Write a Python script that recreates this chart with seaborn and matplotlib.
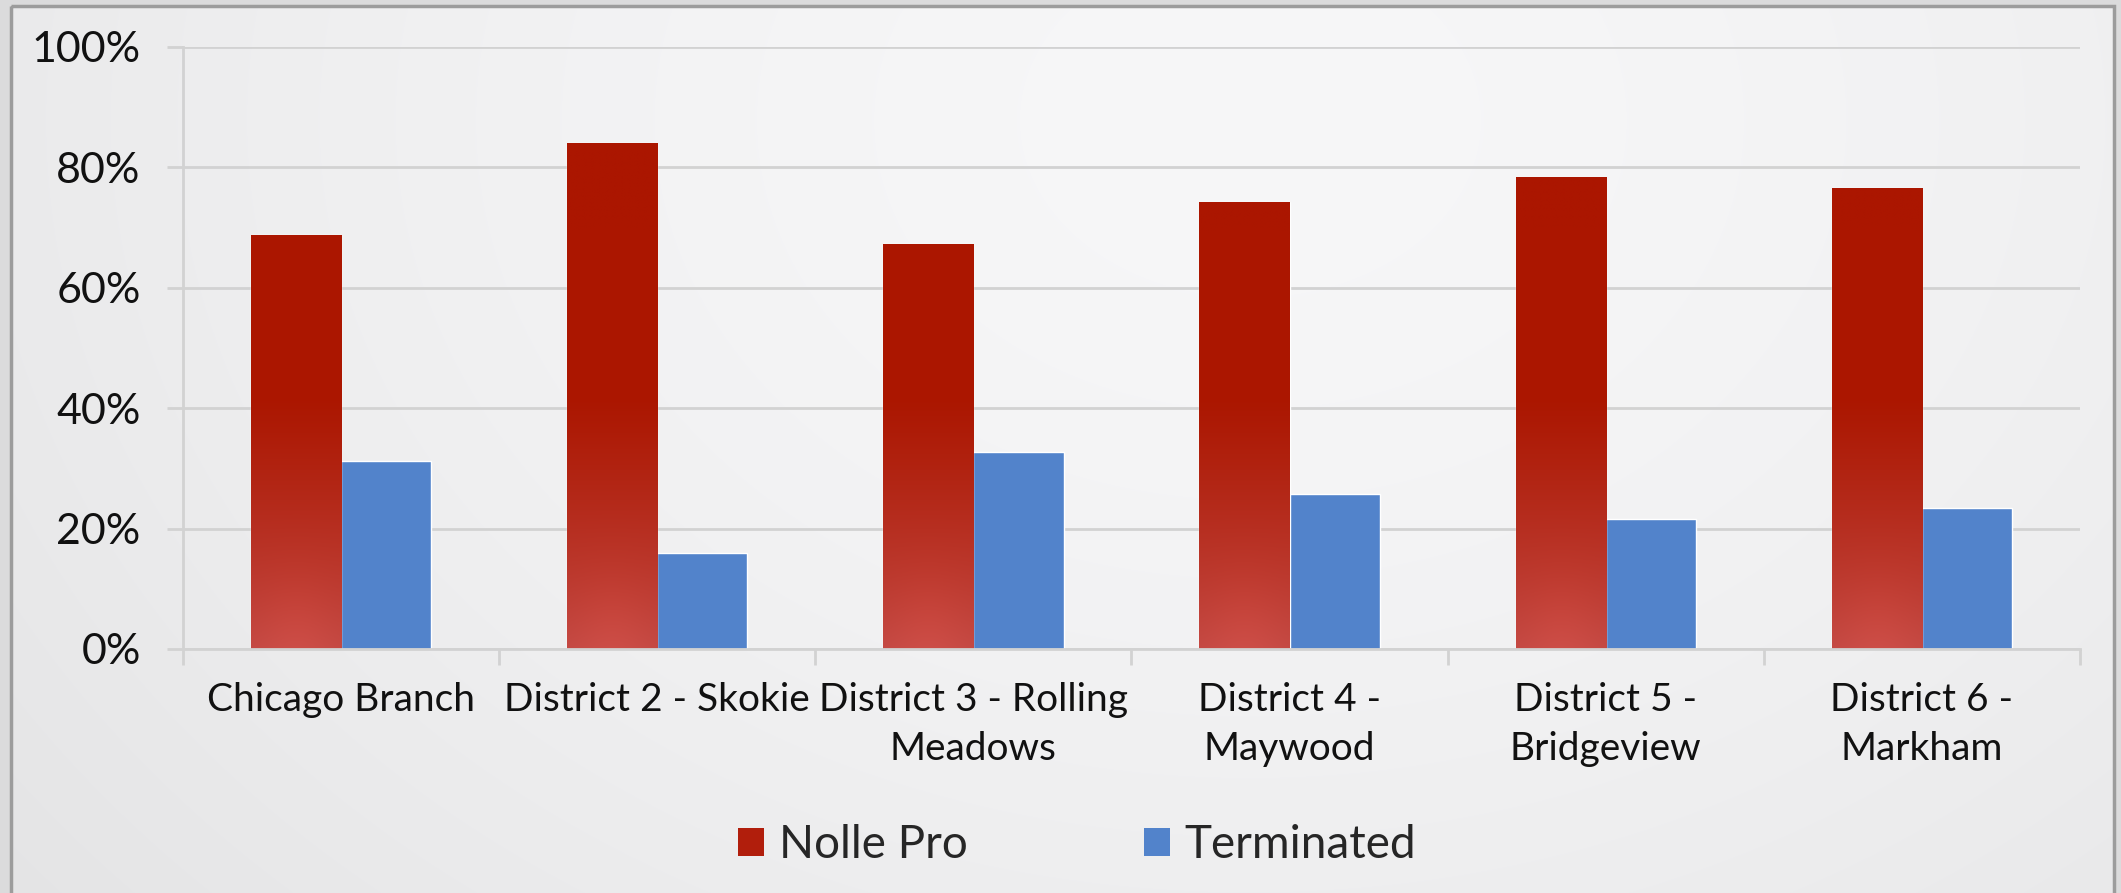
import numpy as np
import pandas as pd
import matplotlib
matplotlib.use("Agg")
import matplotlib.pyplot as plt
import seaborn as sns
from matplotlib.patches import Patch, Rectangle

# ---- data ----
districts = ["Chicago Branch", "District 2 - Skokie", "District 3 - Rolling\nMeadows",
             "District 4 -\nMaywood", "District 5 -\nBridgeview", "District 6 -\nMarkham"]
nolle_pro = [0.688, 0.840, 0.672, 0.742, 0.784, 0.766]
terminated = [0.312, 0.160, 0.328, 0.258, 0.216, 0.234]
series = ["Nolle Pro", "Terminated"]
y_ticks = [0, 0.2, 0.4, 0.6, 0.8, 1.0]
y_tick_labels = ["0%", "20%", "40%", "60%", "80%", "100%"]

RED = "#AB1600"
RED_LOW = "#C24842"
BLUE = "#5283CB"
GRID = "#d2d2d2"

df = pd.DataFrame({
    "district": districts * 2,
    "value": nolle_pro + terminated,
    "outcome": [series[0]] * len(districts) + [series[1]] * len(districts),
})

sns.set_theme(style="white")
plt.rcParams["font.family"] = ["Lato", "DejaVu Sans"]

W, H = 2121, 893
fig = plt.figure(figsize=(W / 100, H / 100), dpi=100)

# ---- background (decor) ----
bg = fig.add_axes([0, 0, 1, 1], zorder=-10)
yy, xx = np.mgrid[0:H, 0:W]
r = np.sqrt(((xx - 1250) / 1.3) ** 2 + (yy - 120) ** 2)
t = np.clip(r / 1250, 0, 1)
val = 0.968 - 0.075 * t ** 1.6
img = np.dstack([val, val, val + 0.004])
outside = (xx < 11) | (xx > 2114) | (yy < 6)
img[outside] = [0.86, 0.86, 0.865]
img = np.clip(img, 0, 1)
bg.imshow(img, extent=[0, W, H, 0], aspect="auto", interpolation="bilinear")
bg.add_patch(Rectangle((11, 6), 2103, 900, fill=False, edgecolor="#9c9c9c", lw=2.5))
bg.set_xlim(0, W)
bg.set_ylim(H, 0)
bg.axis("off")

# ---- main chart ----
ax = fig.add_axes([183 / W, 1 - 649 / H, (2080 - 183) / W, (649 - 47) / H])
ax.patch.set_alpha(0)
sns.barplot(data=df, x="district", y="value", hue="outcome", palette=[RED, BLUE],
            width=0.57, saturation=1, ax=ax, legend=False, errorbar=None)

# gradient on red bars (decor overlay clipped to each bar)
c_top = np.array(matplotlib.colors.to_rgb(RED))
c_low = np.array(matplotlib.colors.to_rgb(RED_LOW))
for bar in ax.containers[0]:
    x0, w, h = bar.get_x(), bar.get_width(), bar.get_height()
    ny, nx = 200, 40
    ys = np.linspace(h, 0, ny)[:, None]
    xs = np.linspace(-1, 1, nx)[None, :]
    f = np.clip((0.42 - ys) / 0.42, 0, 1) ** 1.1
    glow = np.exp(-((xs / 0.9) ** 2) - (ys / 0.12) ** 2) * 0.04
    g = c_top[None, None, :] + (c_low - c_top)[None, None, :] * f[..., None]
    g = g + glow[..., None] * np.array([1.0, 0.55, 0.5])[None, None, :]
    g = np.clip(g, 0, 1)
    im = ax.imshow(g, extent=[x0, x0 + w, 0, h], aspect="auto", zorder=bar.get_zorder() + 0.1,
                   interpolation="bilinear")
    im.set_clip_path(bar)

ax.set_xlim(-0.5, len(districts) - 0.5)
ax.set_ylim(0, 1)
ax.set_yticks(y_ticks)
ax.set_yticklabels(y_tick_labels)
ax.set_xlabel("")
ax.set_ylabel("")
ax.yaxis.grid(True, color=GRID, lw=2)
ax.set_axisbelow(True)
for s in ["top", "right"]:
    ax.spines[s].set_visible(False)
for s in ["left", "bottom"]:
    ax.spines[s].set_color(GRID)
    ax.spines[s].set_linewidth(2)

ax.tick_params(axis="y", which="major", length=11.5, width=2, color=GRID, pad=19,
               labelsize=31, labelcolor="#111111", left=True)
ax.set_xticks(np.arange(-0.5, len(districts), 1.0), minor=True)
ax.tick_params(axis="x", which="minor", length=11.5, width=2, color=GRID, bottom=True)
ax.tick_params(axis="x", which="major", length=0, pad=24, labelsize=28, labelcolor="#111111")
for lab in ax.get_xticklabels():
    lab.set_linespacing(1.42)
    lab.set_verticalalignment("top")

handles = [Patch(facecolor="#B11E0C", edgecolor="none"), Patch(facecolor=BLUE, edgecolor="none")]
leg = fig.legend(handles, series, loc="center", bbox_to_anchor=(1077 / W, 1 - 845 / H), ncol=2,
                 frameon=False, handlelength=0.57, handleheight=0.57, handletextpad=0.33,
                 columnspacing=3.84, borderpad=0, prop={"family": ["Lato", "DejaVu Sans"], "size": 33})

fig.savefig("out.png", dpi=100)
